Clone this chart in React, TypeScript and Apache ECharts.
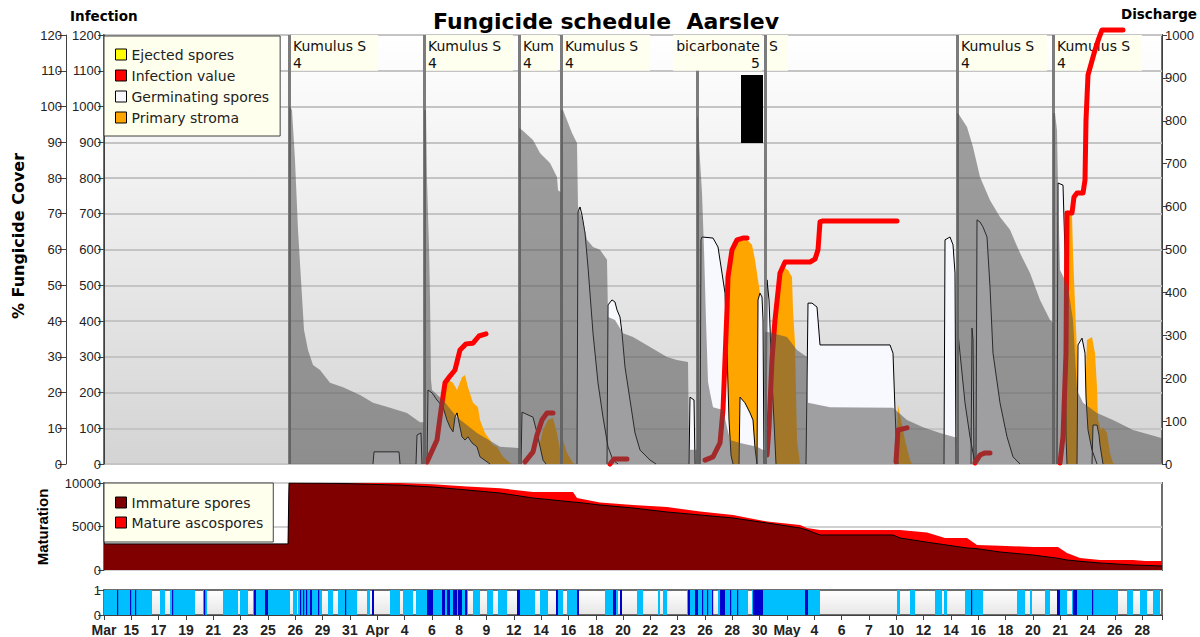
import React, { useEffect, useRef } from 'react';
import * as echarts from 'echarts';

// ---- time axis (x in time steps, one label every TICK_STEP) ----
const X_MAX = 1058;
const TICK_STEP = 27.32;
const X_LABELS = ['Mar','15','17','19','21','23','25','26','29','31','Apr','4','6','8','9','12','14','16','18','20','22','23','26','28','30','May','4','6','7','10','12','14','16','18','20','21','24','26','28'];

// ---- fungicide applications ----
const SPRAYS = [185, 320, 415, 457, 593, 661, 853, 949];
const SPRAY_LABELS = [
  { from: 187, to: 274, text: 'Kumulus S\n4', right: false },
  { from: 322, to: 409, text: 'Kumulus S\n4', right: false },
  { from: 417, to: 454, text: 'Kum\n4', right: false },
  { from: 459, to: 546, text: 'Kumulus S\n4', right: false },
  { from: 569, to: 658, text: 'bicarbonate\n5', right: true },
  { from: 663, to: 684, text: 'S', right: false },
  { from: 855, to: 943, text: 'Kumulus S\n4', right: false },
  { from: 951, to: 1038, text: 'Kumulus S\n4', right: false },
];
const BLACK_BLOCK = [637, 659, 898, 1088];

// ---- main panel series (x time step, y on 0-1200 scale) ----
const FUNGICIDE: number[][] = [
  [0,0],[185,0],[185,1000],[186,999],[188,990],[191,850],[194,655],[197,515],[200,375],[204,319],[209,277],[216,263],[226,227],[239,215],[256,193],[269,171],[286,157],[303,143],[316,117],[320,117],
  [320,990],[322,990],[323,794],[325,607],[326,467],[327,235],[328,207],[339,179],[353,131],[373,87],[396,48],[414,45],[415,45],
  [415,940],[418,934],[429,906],[436,870],[446,842],[453,803],[454,766],[457,760],
  [457,990],[459,990],[468,926],[473,898],[474,719],[478,691],[483,627],[489,607],[496,599],[503,571],[504,411],[511,403],[519,366],[529,355],[546,327],[563,299],[573,291],[584,285],[585,40],[593,40],
  [593,970],[594,970],[596,850],[598,758],[600,600],[602,400],[604,230],[606,199],[609,159],[619,151],[623,103],[626,67],[636,59],[653,48],[659,39],[661,39],
  [661,369],[664,369],[683,355],[693,319],[703,299],[704,171],[726,159],[789,157],[803,123],[819,103],[836,87],[851,75],[853,75],
  [853,982],[854,982],[863,943],[869,887],[876,803],[886,738],[896,691],[906,655],[916,590],[926,534],[936,459],[946,403],[949,395],
  [949,982],[951,982],[953,934],[954,775],[956,543],[961,515],[964,495],[969,403],[973,207],[979,171],[993,143],[1009,123],[1029,95],[1053,76],[1058,72],
];

const STROMA: number[][] = [
  [0,0],[334,0],[338,120],[341,220],[344,235],[349,227],[353,207],[358,243],[361,249],[364,215],[369,171],[374,159],[376,123],[381,87],[386,67],[389,53],[393,48],[399,20],[406,3],[408,0],
  [431,0],[439,95],[444,123],[449,129],[453,87],[456,39],[459,67],[463,31],[469,3],[471,0],
  [616,0],[620,123],[623,375],[625,543],[629,621],[643,627],[648,613],[651,571],[654,515],[656,478],[658,422],[659,291],[660,0],
  [664,0],[668,291],[671,403],[676,534],[679,551],[684,543],[688,523],[689,431],[691,338],[692,199],[693,67],[696,0],
  [792,0],[793,95],[794,165],[797,123],[801,67],[806,11],[808,0],
  [959,0],[962,319],[963,710],[968,702],[969,590],[971,450],[973,310],[974,215],[976,76],[979,53],[981,179],[983,347],[988,355],[991,310],[993,215],[994,123],[997,95],[999,103],[1003,87],[1006,31],[1009,3],[1011,0],[1058,0],
];

const GERM_A: (number[] | null)[] = [
  [269,0],[270,34],[295,34],[296,0], null,
  [312,0],[313,81],[317,87],[318,0], null,
  [323,0],[324,207],[328,199],[333,179],[339,159],[343,123],[346,103],[349,90],[351,131],[353,143],[356,103],[358,76],[361,67],[364,76],[368,59],[373,48],[376,20],[386,0], null,
  [417,0],[418,145],[429,131],[433,87],[439,11],[442,0], null,
  [473,0],[474,705],[476,719],[478,696],[481,646],[484,551],[489,366],[494,227],[499,131],[504,48],[509,11],[514,0], null,
  [585,0],[586,187],[590,179],[591,0], null,
  [596,0],[597,627],[598,635],[609,632],[614,607],[618,534],[621,478],[623,319],[625,123],[627,25],[629,0], null,
  [635,0],[636,187],[641,171],[646,143],[649,123],[651,45],[653,0], null,
  [662,0],[663,515],[665,459],[668,235],[672,0], null,
  [702,0],[704,450],[708,450],[713,439],[716,333],[786,333],[789,310],[791,151],[793,20],[794,0], null,
  [840,0],[841,627],[846,635],[849,613],[851,534],[852,0], null,
  [853,0],[854,366],[856,310],[861,171],[866,76],[869,31],[871,0], null,
  [953,0],[954,786],[959,780],[961,590],[962,76],[963,0], null,
  [973,0],[974,333],[978,352],[981,310],[982,187],[984,95],[988,39],[993,0],
];
const GERM_B: (number[] | null)[] = [
  [503,0],[504,445],[508,459],[511,453],[513,431],[516,411],[518,366],[521,271],[526,179],[531,87],[536,39],[546,11],[552,0], null,
  [653,0],[654,459],[656,478],[658,467],[659,403],[660,0], null,
  [867,0],[868,380],[869,347],[870,0], null,
  [872,0],[873,683],[876,677],[879,663],[883,635],[886,495],[889,310],[896,171],[903,76],[909,20],[916,0], null,
  [988,0],[989,109],[993,109],[995,81],[996,53],[999,0],
];

const INFECTION: (number[] | null)[] = [
  [323,6],[333,67],[337,151],[341,227],[346,246],[351,263],[356,319],[362,336],[369,338],[375,358],[382,364], null,
  [421,6],[429,34],[433,81],[438,123],[443,143],[449,143], null,
  [506,0],[510,14],[523,14], null,
  [601,11],[609,20],[616,59],[619,151],[621,291],[623,431],[624,523],[628,599],[633,627],[639,632],[643,632], null,
  [663,25],[665,103],[668,291],[671,403],[676,534],[681,565],[706,565],[711,573],[714,599],[716,677],[719,680],[793,680], null,
  [792,6],[794,95],[803,101], null,
  [871,3],[876,25],[881,31],[886,31], null,
  [956,3],[959,76],[962,310],[963,702],[968,702],[970,747],[973,758],[979,758],[981,794],[982,962],[984,1088],[991,1158],[995,1192],[998,1214],[1019,1214],
];

// ---- maturation panel ----
const MAT_X = [0,184,185,236,296,329,363,396,429,469,473,496,529,563,596,629,663,696,703,716,789,796,823,841,863,873,896,929,954,963,976,996,1029,1041,1058];
const IMMATURE = [3000,3000,10000,9950,9750,9540,9195,8850,8276,7816,7780,7471,7126,6667,6322,5977,5402,4828,4598,4023,4023,3678,3200,2900,2529,2450,2069,1724,1350,1149,1000,805,575,530,460];
const MATURE = [0,0,0,50,250,310,405,550,690,1150,496,279,345,574,400,345,170,344,230,575,575,920,1118,778,1149,424,731,920,1294,805,379,344,574,504,574];

// ---- wetness strip: [start, end] ----
const STRIP_LIGHT = [[0,48],[56,61],[66,91],[99,103],[119,134],[136,144],[149,186],[189,193],[194,218],[224,229],[234,253],[263,266],[286,296],[299,309],[312,364],[369,376],[383,389],[394,403],[413,431],[436,444],[452,459],[463,475],[501,514],[533,539],[554,556],[559,563],[583,609],[614,644],[648,716],[793,796],[806,811],[831,838],[840,843],[861,879],[913,921],[926,928],[941,946],[953,963],[968,1014],[1023,1029],[1036,1043],[1049,1056]];
const STRIP_DARK = [[13,14],[26,27],[31,32],[68,69],[100,101],[150,152],[161,164],[196,197],[199,200],[202,203],[206,208],[214,215],[241,242],[268,270],[323,329],[338,341],[343,346],[349,353],[354,358],[361,363],[413,416],[452,454],[473,475],[509,512],[516,518],[584,586],[591,594],[598,599],[603,604],[608,609],[616,621],[626,627],[633,634],[649,659],[701,704],[867,868],[953,956],[969,973],[988,989]];

const FONT = 'DejaVu Sans';
const AFONT = 'Liberation Sans';

function buildOption(): any {
  const plain = (v: number) => String(v);
  const tickLabel = { fontFamily: AFONT, fontSize: 13, color: '#222', formatter: plain };
  const axisLine = { show: true, lineStyle: { color: '#404040', width: 1 } };
  const axisTick = { show: true, length: 6, lineStyle: { color: '#404040' } };
  const base = { type: 'line', symbol: 'none', showSymbol: false, silent: true, emphasis: { disabled: true }, xAxisIndex: 0, yAxisIndex: 0 };
  const stripRender = (color: string) => (params: any, api: any) => {
    const p0 = api.coord([api.value(0), 1]);
    const p1 = api.coord([api.value(1), 0]);
    return { type: 'rect', shape: { x: p0[0], y: p0[1], width: Math.max(p1[0] - p0[0], 1.2), height: p1[1] - p0[1] }, style: { fill: color } };
  };
  // mature ascospores sit on top of the immature spores
  const matureTop = MAT_X.map((x, i) => [x, IMMATURE[i] + MATURE[i]]);
  return {
    animation: false,
    backgroundColor: '#ffffff',
    graphic: [
      { type: 'text', x: 606, y: 21, style: { text: 'Fungicide schedule  Aarslev', font: `bold 22px "${FONT}"`, fill: '#000', align: 'center', verticalAlign: 'middle' } },
      { type: 'text', x: 70, y: 16, style: { text: 'Infection', font: `bold 13.5px "${FONT}"`, fill: '#000', align: 'left', verticalAlign: 'middle' } },
      { type: 'text', x: 1197, y: 14, style: { text: 'Discharge', font: `bold 13.5px "${FONT}"`, fill: '#000', align: 'right', verticalAlign: 'middle' } },
      { type: 'text', x: 18, y: 236, rotation: Math.PI / 2, style: { text: '% Fungicide Cover', font: `bold 16px "${FONT}"`, fill: '#000', align: 'center', verticalAlign: 'middle' } },
      { type: 'text', x: 42, y: 527, rotation: Math.PI / 2, style: { text: 'Maturation', font: `bold 15px "${AFONT}"`, fill: '#000', align: 'center', verticalAlign: 'middle' } },
    ],
    legend: [
      {
        data: ['Ejected spores', 'Infection value', 'Germinating spores', 'Primary stroma'],
        left: 104, top: 36, orient: 'vertical', icon: 'rect', itemWidth: 11, itemHeight: 11, itemGap: 4,
        padding: [10, 11, 10, 11], backgroundColor: '#FFFFEE', borderColor: '#404040', borderWidth: 1,
        textStyle: { fontFamily: FONT, fontSize: 14, color: '#222', lineHeight: 17 },
        itemStyle: { borderColor: '#000', borderWidth: 1 }, selectedMode: false, z: 20,
      },
      {
        data: ['Immature spores', 'Mature ascospores'],
        left: 104, top: 483, orient: 'vertical', icon: 'rect', itemWidth: 11, itemHeight: 11, itemGap: 3,
        padding: [11, 10, 11, 11], backgroundColor: '#FFFFEE', borderColor: '#404040', borderWidth: 1,
        textStyle: { fontFamily: FONT, fontSize: 14, color: '#222', lineHeight: 17 },
        itemStyle: { borderColor: '#000', borderWidth: 1 }, selectedMode: false, z: 20,
      },
    ],
    grid: [
      { left: 104, top: 35, right: 38, height: 429, show: true, borderColor: '#6e6e6e', borderWidth: 2,
        backgroundColor: new echarts.graphic.LinearGradient(0, 0, 0, 1, [{ offset: 0, color: '#ffffff' }, { offset: 1, color: '#d4d4d4' }]) },
      { left: 104, top: 483, right: 38, height: 87, show: true, borderColor: '#6e6e6e', borderWidth: 2, backgroundColor: '#ffffff' },
      { left: 104, top: 590, right: 38, height: 25, show: true, borderColor: '#6e6e6e', borderWidth: 2,
        backgroundColor: new echarts.graphic.LinearGradient(0, 0, 0, 1, [{ offset: 0, color: '#ffffff' }, { offset: 1, color: '#e6e6e6' }]) },
    ],
    xAxis: [
      { type: 'value', gridIndex: 0, min: 0, max: X_MAX, show: false },
      { type: 'value', gridIndex: 1, min: 0, max: X_MAX, show: false },
      { type: 'value', gridIndex: 2, min: 0, max: X_MAX, interval: TICK_STEP, splitLine: { show: false },
        axisLine, axisTick: { show: true, length: 5, lineStyle: { color: '#404040' } },
        axisLabel: { fontFamily: AFONT, fontSize: 14, fontWeight: 'bold', color: '#222', margin: 8, hideOverlap: false,
          formatter: (v: number) => X_LABELS[Math.round(v / TICK_STEP)] ?? '' } },
    ],
    yAxis: [
      { type: 'value', gridIndex: 0, position: 'left', min: 0, max: 1200, interval: 100, axisLine, axisTick,
        axisLabel: { ...tickLabel, margin: 3 }, splitLine: { show: true, lineStyle: { color: '#c4c4c4', width: 2 } } },
      { type: 'value', gridIndex: 0, position: 'left', offset: 38, min: 0, max: 120, interval: 10, axisLine,
        axisTick: { show: true, length: 8, lineStyle: { color: '#404040' } }, axisLabel: { ...tickLabel, margin: 4 }, splitLine: { show: false } },
      { type: 'value', gridIndex: 0, position: 'right', min: 0, max: 1000, interval: 100, axisLine,
        axisTick: { show: true, length: 5, lineStyle: { color: '#404040' } }, axisLabel: { ...tickLabel, margin: 3 }, splitLine: { show: false } },
      { type: 'value', gridIndex: 1, min: 0, max: 10000, interval: 5000, axisLine, axisTick,
        axisLabel: { ...tickLabel, margin: 3 }, splitLine: { show: true, lineStyle: { color: '#d0d0d0', width: 2 } } },
      { type: 'value', gridIndex: 2, min: 0, max: 1, interval: 1, axisLine, axisTick,
        axisLabel: { ...tickLabel, margin: 3 }, splitLine: { show: false } },
    ],
    series: [
      { ...base, name: 'Ejected spores', data: [], itemStyle: { color: '#FFFF00' } },
      { ...base, name: 'Primary stroma', data: STROMA, z: 2, lineStyle: { width: 0 }, itemStyle: { color: '#FFA500' },
        areaStyle: { color: '#FFA500', opacity: 1 } },
      { ...base, name: 'Germinating spores', data: GERM_A, z: 3, lineStyle: { color: '#000', width: 1 }, itemStyle: { color: '#F8F8FF' },
        areaStyle: { color: '#F8F8FF', opacity: 1 } },
      { ...base, name: 'Germinating spores', data: GERM_B, z: 3, lineStyle: { color: '#000', width: 1 }, itemStyle: { color: '#F8F8FF' },
        areaStyle: { color: '#F8F8FF', opacity: 1 } },
      { ...base, name: 'Infection value', data: INFECTION, z: 4, clip: false, itemStyle: { color: '#FF0000' },
        lineStyle: { color: '#FF0000', width: 5, cap: 'round', join: 'round' } },
      { ...base, name: 'Fungicide cover', data: FUNGICIDE, z: 5, lineStyle: { width: 0 }, itemStyle: { color: '#505050' },
        areaStyle: { color: 'rgba(80,80,80,0.53)', opacity: 1 } },
      { ...base, name: 'Applications', data: [[0, 0]], z: 6, lineStyle: { width: 0 },
        markLine: { silent: true, symbol: ['none', 'none'], label: { show: false },
          lineStyle: { color: '#7c7c7c', width: 3, type: 'solid' },
          data: SPRAYS.map((s, i) => i === 4
            ? [{ coord: [s, 0] }, { coord: [s, 1100] }]
            : [{ coord: [s, 0] }, { coord: [s, 1200] }]) },
        markArea: { silent: true,
          label: { show: true, position: 'insideTopLeft', distance: 2, color: '#111', fontFamily: FONT, fontSize: 14, lineHeight: 17 },
          data: [
            ...SPRAY_LABELS.map((b) => [
              { xAxis: b.from, yAxis: 1100, name: b.text, itemStyle: { color: '#FFFFEF' },
                label: b.right ? { position: 'insideTopRight', align: 'right' } : undefined },
              { xAxis: b.to, yAxis: 1200 },
            ]),
            [{ xAxis: BLACK_BLOCK[0], yAxis: BLACK_BLOCK[2], name: '', itemStyle: { color: '#000' }, label: { show: false } },
             { xAxis: BLACK_BLOCK[1], yAxis: BLACK_BLOCK[3] }],
          ] } },
      { ...base, name: 'Mature ascospores', xAxisIndex: 1, yAxisIndex: 3, z: 2,
        data: matureTop, lineStyle: { width: 0 }, itemStyle: { color: '#FF0000' },
        areaStyle: { color: '#FF0000', opacity: 1 } },
      { ...base, name: 'Immature spores', xAxisIndex: 1, yAxisIndex: 3, z: 3,
        data: MAT_X.map((x, i) => [x, IMMATURE[i]]), lineStyle: { color: '#000', width: 1 }, itemStyle: { color: '#800000' },
        areaStyle: { color: '#800000', opacity: 1 } },
      { type: 'custom', name: 'wet', xAxisIndex: 2, yAxisIndex: 4, silent: true, z: 2, data: STRIP_LIGHT, renderItem: stripRender('#00BFFF') },
      { type: 'custom', name: 'wet2', xAxisIndex: 2, yAxisIndex: 4, silent: true, z: 3, data: STRIP_DARK, renderItem: stripRender('#0000CD') },
    ],
  };
}

export default function App() {
  const ref = useRef<HTMLDivElement>(null);
  useEffect(() => {
    if (!ref.current) return;
    const chart = echarts.init(ref.current, null, { renderer: 'svg' });
    chart.setOption(buildOption());
    return () => chart.dispose();
  }, []);
  return <div ref={ref} style={{ position: 'fixed', left: 0, top: 0, width: 1200, height: 637, background: '#fff' }} />;
}
